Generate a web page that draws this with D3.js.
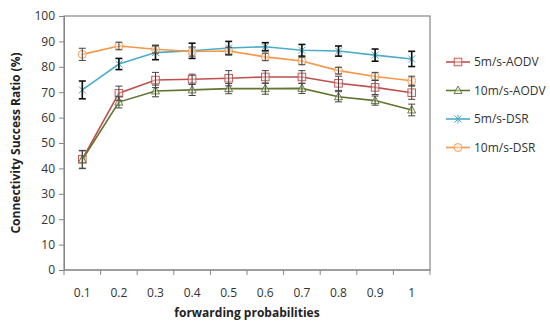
<!DOCTYPE html>
<html>
<head>
<meta charset="utf-8">
<script src="https://cdnjs.cloudflare.com/ajax/libs/d3/7.8.5/d3.min.js"></script>
<style>
	body { margin: 0; background: #fff; }
	text { font-family: "Open Sans", "Noto Sans", sans-serif; }
</style>
</head>
<body>
<svg id="chart" width="550" height="323"></svg>
<script>
	var probs = ["0.1", "0.2", "0.3", "0.4", "0.5", "0.6", "0.7", "0.8", "0.9", "1"];
	var yTicks = [0, 10, 20, 30, 40, 50, 60, 70, 80, 90, 100];
	var seriesNames = ["5m/s-AODV", "10m/s-AODV", "5m/s-DSR", "10m/s-DSR"];

	var aodv5 = [43.6, 69.6, 74.8, 75.1, 75.5, 76.0, 76.0, 73.5, 71.9, 69.8];
	var aodv5Err = [3.5, 2.8, 3.0, 2.0, 3.0, 2.5, 2.5, 2.8, 2.8, 2.6];
	var aodv10 = [43.4, 66.1, 70.5, 70.9, 71.4, 71.4, 71.5, 68.2, 66.7, 63.0];
	var aodv10Err = [3.5, 2.3, 2.3, 2.2, 2.0, 2.2, 2.0, 2.0, 1.8, 2.3];
	var dsr5 = [70.9, 81.1, 85.6, 86.3, 87.4, 87.9, 86.5, 86.2, 84.6, 83.1];
	var dsr5Err = [3.5, 2.2, 2.8, 3.0, 2.6, 1.6, 2.3, 2.0, 2.4, 3.0];
	var dsr10 = [84.9, 88.2, 86.9, 86.0, 86.2, 83.9, 82.3, 78.5, 76.2, 74.5];
	var dsr10Err = [2.4, 1.5, 1.5, 1.8, 1.5, 1.5, 1.5, 1.3, 1.6, 1.8];

	var colors = ["#c0504d", "#5f7530", "#4bacc6", "#f79646"];
	var markers = ["square", "triangle", "star", "circle"];

	var plot = { left: 64, right: 430, top: 16, bottom: 270 };

	var svg = d3.select("#chart");

	var x = d3.scaleBand().domain(probs).range([plot.left, plot.right]);
	var y = d3.scaleLinear().domain([0, 100]).range([plot.bottom, plot.top]);

	// frame
	svg.append("rect")
		.attr("x", plot.left).attr("y", plot.top)
		.attr("width", plot.right - plot.left).attr("height", plot.bottom - plot.top)
		.attr("fill", "none").attr("stroke", "#868686").attr("stroke-width", 1.2);

	var yAxis = svg.append("g")
		.attr("transform", "translate(" + plot.left + ",0)")
		.call(d3.axisLeft(y).tickValues(yTicks).tickSize(5).tickPadding(4));
	yAxis.select(".domain").attr("stroke", "#868686");
	yAxis.selectAll("line").attr("stroke", "#868686");
	yAxis.selectAll("text").attr("font-size", 12).attr("fill", "#333");

	// category boundary ticks
	var xAxis = svg.append("g").attr("transform", "translate(0," + plot.bottom + ")");
	xAxis.append("line").attr("x1", plot.left).attr("x2", plot.right).attr("stroke", "#868686");
	xAxis.selectAll("line.tick")
		.data(d3.range(probs.length + 1))
		.enter().append("line")
		.attr("class", "tick")
		.attr("x1", function(i) { return plot.left + i * x.step(); })
		.attr("x2", function(i) { return plot.left + i * x.step(); })
		.attr("y1", 0).attr("y2", 5)
		.attr("stroke", "#868686");
	xAxis.selectAll("text")
		.data(probs)
		.enter().append("text")
		.attr("x", function(d) { return x(d) + x.bandwidth() / 2; })
		.attr("y", 27)
		.attr("text-anchor", "middle")
		.attr("font-size", 12)
		.attr("fill", "#333")
		.text(function(d) { return d; });

	svg.append("text")
		.attr("x", (plot.left + plot.right) / 2).attr("y", 317)
		.attr("text-anchor", "middle")
		.attr("font-size", 12).attr("font-weight", "bold").attr("fill", "#222")
		.text("forwarding probabilities");

	svg.append("text")
		.attr("transform", "translate(20," + ((plot.top + plot.bottom) / 2) + ") rotate(-90)")
		.attr("text-anchor", "middle")
		.attr("font-size", 12).attr("font-weight", "bold").attr("fill", "#222")
		.text("Connectivity Success Ratio (%)");

	var series = [
		{ name: seriesNames[0], values: aodv5, err: aodv5Err },
		{ name: seriesNames[1], values: aodv10, err: aodv10Err },
		{ name: seriesNames[2], values: dsr5, err: dsr5Err },
		{ name: seriesNames[3], values: dsr10, err: dsr10Err }
	];

	function cx(i) { return x(probs[i]) + x.bandwidth() / 2; }

	function drawMarker(g, type, color, px, py) {
		if (type === "square") {
			g.append("rect").attr("x", px - 3.8).attr("y", py - 3.8).attr("width", 7.6).attr("height", 7.6)
				.attr("fill", "#f4e4e4").attr("fill-opacity", 0.5).attr("stroke", color).attr("stroke-width", 0.9);
		} else if (type === "triangle") {
			g.append("path").attr("d", "M" + px + "," + (py - 4.5) + "L" + (px + 4) + "," + (py + 3) + "L" + (px - 4) + "," + (py + 3) + "Z")
				.attr("fill", "#e6ecd8").attr("fill-opacity", 0.5).attr("stroke", color).attr("stroke-width", 0.9);
		} else if (type === "star") {
			g.append("path").attr("d", "M" + (px - 3.5) + "," + (py - 3.5) + "L" + (px + 3.5) + "," + (py + 3.5) +
				"M" + (px - 3.5) + "," + (py + 3.5) + "L" + (px + 3.5) + "," + (py - 3.5) +
				"M" + px + "," + (py - 4.5) + "L" + px + "," + (py + 4.5))
				.attr("stroke", color).attr("stroke-width", 1);
		} else {
			g.append("circle").attr("cx", px).attr("cy", py).attr("r", 4)
				.attr("fill", "#fdeede").attr("fill-opacity", 0.5).attr("stroke", color).attr("stroke-width", 0.9);
		}
	}

	var line = d3.line()
		.x(function(d, i) { return cx(i); })
		.y(function(d) { return y(d); });

	series.forEach(function(s, k) {
		var g = svg.append("g");
		g.append("path")
			.attr("d", line(s.values))
			.attr("fill", "none")
			.attr("stroke", colors[k])
			.attr("stroke-width", 1.6);
		s.values.forEach(function(v, i) {
			drawMarker(g, markers[k], colors[k], cx(i), y(v));
		});
	});

	// error bars on top
	series.forEach(function(s, k) {
		var g = svg.append("g").attr("stroke", k === 2 ? "#111" : "#444").attr("stroke-width", k === 2 ? 1.6 : 1);
		s.values.forEach(function(v, i) {
			var px = cx(i), y1 = y(v + s.err[i]), y2 = y(v - s.err[i]);
			g.append("line").attr("x1", px).attr("x2", px).attr("y1", y1).attr("y2", y2);
			g.append("line").attr("x1", px - 3.5).attr("x2", px + 3.5).attr("y1", y1).attr("y2", y1);
			g.append("line").attr("x1", px - 3.5).attr("x2", px + 3.5).attr("y1", y2).attr("y2", y2);
		});
	});

	// legend
	var legend = svg.append("g").attr("transform", "translate(446,62)");
	seriesNames.forEach(function(name, k) {
		var ly = k * 28.5;
		var item = legend.append("g");
		item.append("line").attr("x1", 0).attr("x2", 24).attr("y1", ly).attr("y2", ly)
			.attr("stroke", colors[k]).attr("stroke-width", 1.6);
		drawMarker(item, markers[k], colors[k], 12, ly);
		item.append("text").attr("x", 28).attr("y", ly + 4)
			.attr("font-size", 12).attr("fill", "#333").text(name);
	});
</script>
</body>
</html>
